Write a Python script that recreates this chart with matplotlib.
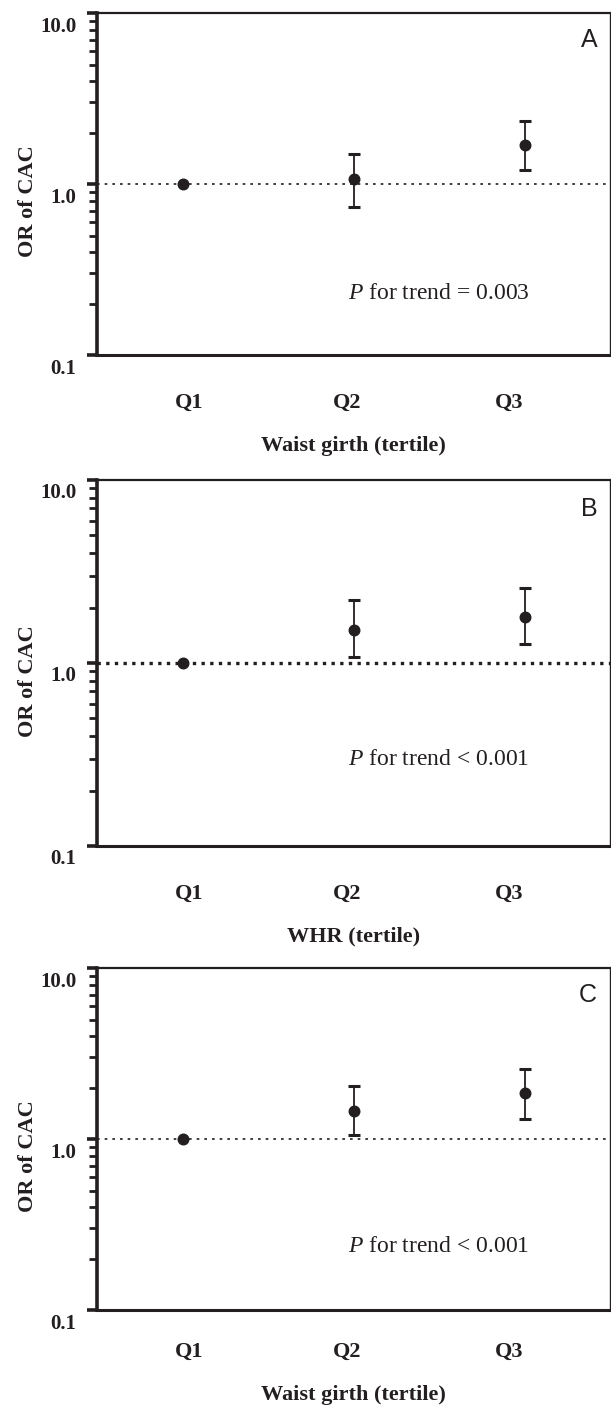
import numpy as np
import matplotlib.pyplot as plt
import matplotlib.transforms as mtransforms

# --- data ---
groups = ['Q1', 'Q2', 'Q3']
panel_letters = ['A', 'B', 'C']
x_titles = ['Waist girth (tertile)', 'WHR (tertile)', 'Waist girth (tertile)']
p_texts = ['= 0.003', '< 0.001', '< 0.001']

or_A = [1.0, 1.07, 1.69]
lo_A = [1.0, 0.73, 1.21]
hi_A = [1.0, 1.50, 2.34]

or_B = [1.0, 1.52, 1.79]
lo_B = [1.0, 1.08, 1.27]
hi_B = [1.0, 2.20, 2.56]

or_C = [1.0, 1.45, 1.85]
lo_C = [1.0, 1.05, 1.31]
hi_C = [1.0, 2.05, 2.56]

ors = [or_A, or_B, or_C]
los = [lo_A, lo_B, lo_C]
his = [hi_A, hi_B, hi_C]

plt.rcParams['mathtext.fontset'] = 'custom'
plt.rcParams['mathtext.it'] = 'Liberation Serif:italic'
plt.rcParams['mathtext.rm'] = 'Liberation Serif'

serif = ['Liberation Serif', 'DejaVu Serif']
sans = ['Liberation Sans', 'DejaVu Sans']
ink = '#231f20'

fig = plt.figure(figsize=(6.11, 14.05), dpi=100)

# axes boxes in figure fractions (left, bottom, width, height)
boxes = [
    [0.1588, 0.7473, 0.8396, 0.2434],
    [0.1588, 0.3979, 0.8396, 0.2605],
    [0.1588, 0.0676, 0.8396, 0.2434],
]
# dotted reference line styles: A and C thin, B heavy
ref_styles = [
    dict(lw=1.2, dashes=(1.6, 3.0)),
    dict(lw=2.4, dashes=(1.0, 1.6)),
    dict(lw=1.2, dashes=(1.6, 3.0)),
]
xlabel_y = [-0.237, -0.221, -0.219]
ptext_y = [0.18, 0.235, 0.185]
xtick_pad = [27, 27, 23]
# the category labels sit a little off the points in the original
label_nudge = [0.04, -0.04, -0.09]

x = np.arange(1, len(groups) + 1)

for i in range(3):
    ax = fig.add_axes(boxes[i])
    ax.set_yscale('log')
    ax.set_ylim(0.1, 10)
    ax.set_xlim(0.5, 3.5)

    ax.axhline(1.0, color=ink, linestyle=(0, ref_styles[i]['dashes']),
               lw=ref_styles[i]['lw'], zorder=1)

    vals = np.array(ors[i])
    err = np.array([vals - np.array(los[i]), np.array(his[i]) - vals])
    # Q1 is the reference: no interval
    ax.plot(x[:1], vals[:1], 'o', color=ink, ms=7.6, zorder=3)
    ax.errorbar(x[1:], vals[1:], yerr=err[:, 1:], fmt='o', color=ink,
                ms=7.6, elinewidth=1.3, capsize=4.3, capthick=2.2, zorder=3)

    # spines
    ax.spines['left'].set_linewidth(2.6)
    ax.spines['bottom'].set_linewidth(2.2)
    ax.spines['top'].set_linewidth(1.6)
    ax.spines['right'].set_linewidth(1.0)
    for s in ax.spines.values():
        s.set_color(ink)

    # y ticks
    ax.set_yticks([0.1, 1, 10])
    ax.set_yticklabels(['0.1', '1.0', '10.0'])
    ax.tick_params(axis='y', which='major', direction='out', length=7,
                   width=2.6, color=ink, pad=8)
    ax.tick_params(axis='y', which='minor', direction='out', length=6,
                   width=2.0, color=ink)
    ax.yaxis.set_minor_formatter(plt.NullFormatter())
    shift = mtransforms.ScaledTranslation(0, -11 / 100, fig.dpi_scale_trans)
    for lab in ax.get_yticklabels():
        lab.set_fontfamily(serif)
        lab.set_fontweight('bold')
        lab.set_fontsize(15)
        lab.set_color(ink)
        lab.set_transform(lab.get_transform() + shift)

    # x ticks
    ax.set_xticks(x + np.array(label_nudge))
    ax.set_xticklabels(groups, family=serif, weight='bold', fontsize=16,
                       color=ink)
    ax.tick_params(axis='x', length=0, pad=xtick_pad[i])

    ax.set_xlabel(x_titles[i], family=serif, weight='bold', fontsize=16,
                  color=ink)
    ax.xaxis.set_label_coords(0.5, xlabel_y[i])
    ax.set_ylabel('OR of CAC', family=serif, weight='bold', fontsize=16,
                  color=ink)
    ax.yaxis.set_label_coords(-0.115, 0.45)

    ax.text(0.975, 0.92, panel_letters[i], transform=ax.transAxes,
            family=sans, fontsize=18, ha='right', va='center', color=ink)
    ax.text(0.49, ptext_y[i], r'$\mathit{P}$ for trend ' + p_texts[i],
            transform=ax.transAxes, family=serif, fontsize=17,
            ha='left', va='center', color=ink)

fig.savefig('out.png', dpi=100)
